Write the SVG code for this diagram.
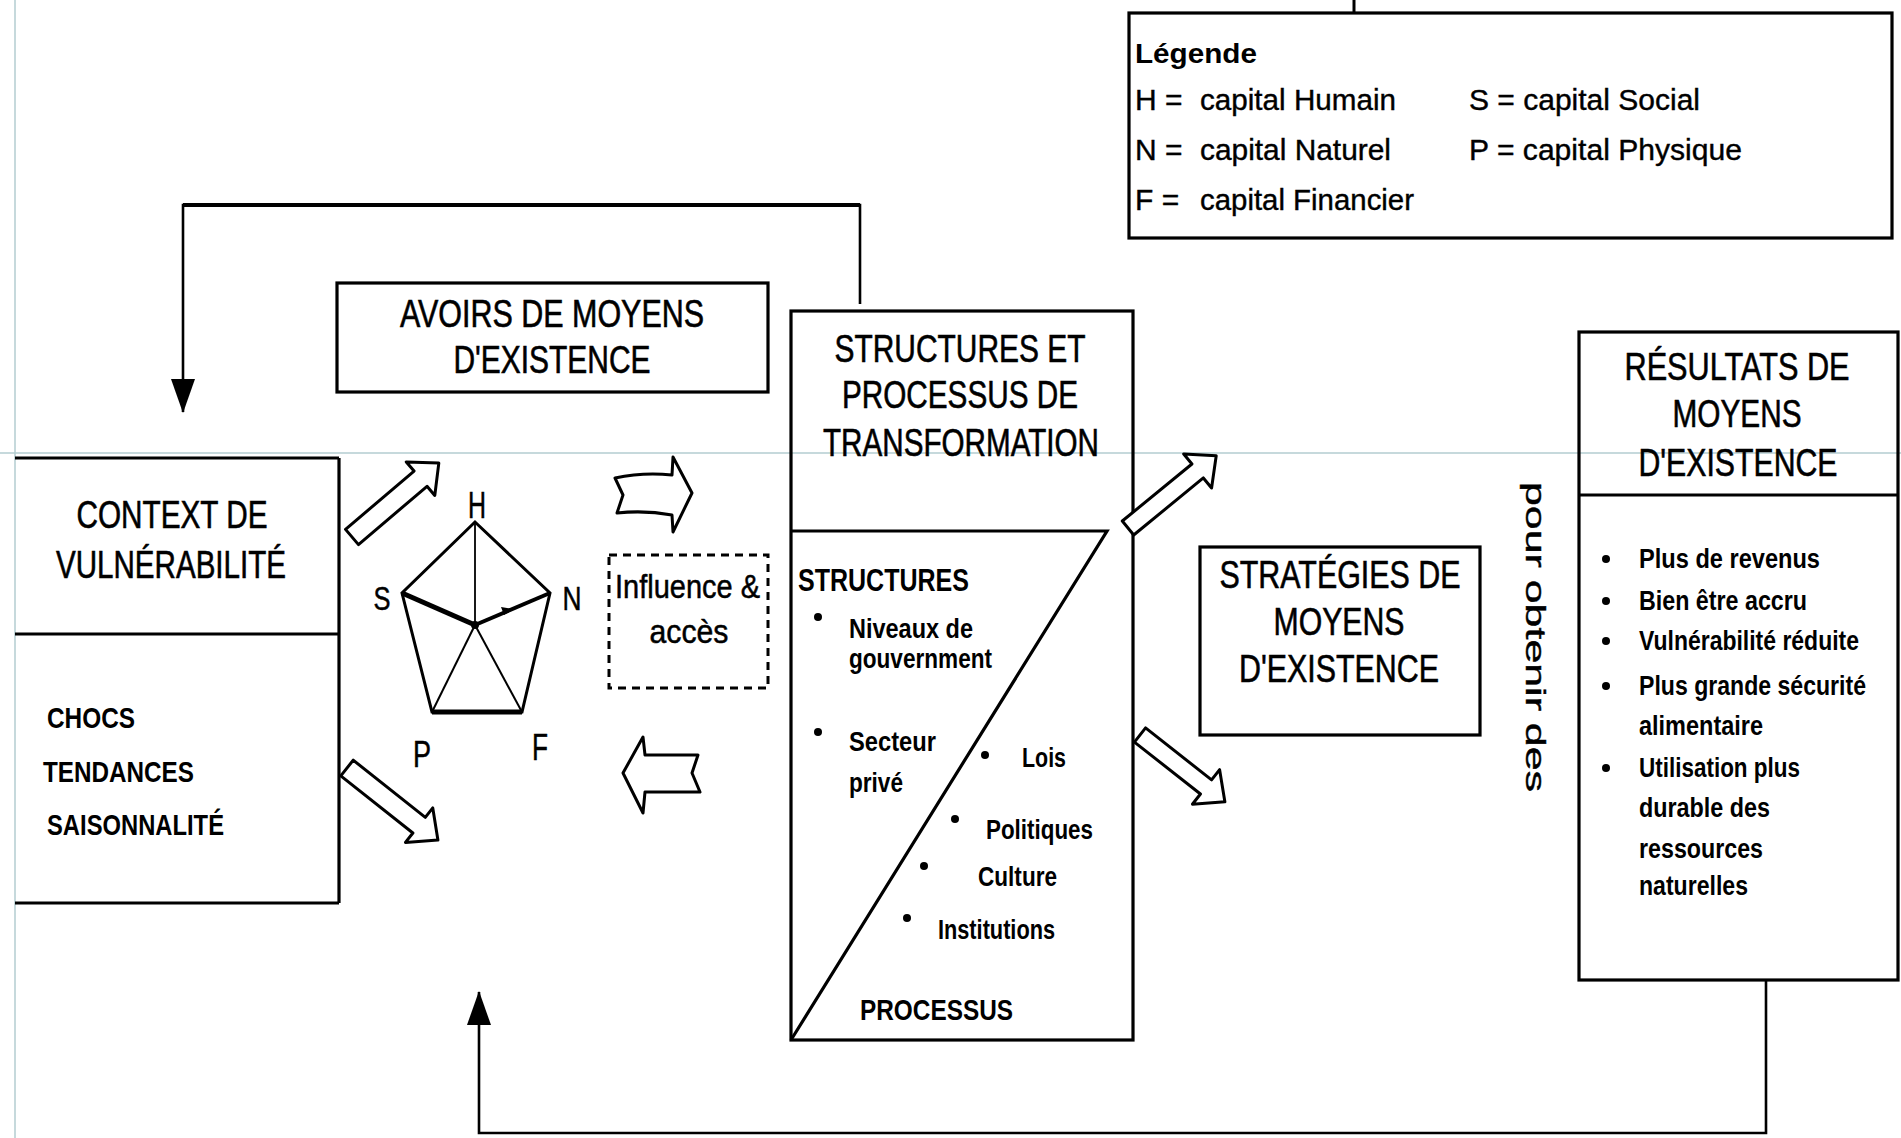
<svg xmlns="http://www.w3.org/2000/svg" width="1901" height="1138" viewBox="0 0 1901 1138">
<defs>
<style>
.bg{fill:#fff}
.faint{stroke:#b3ccd1;stroke-width:1.5;fill:none}
.box{fill:none;stroke:#000;stroke-width:3.2}
.ln{fill:none;stroke:#000;stroke-width:3.2}
.t{font-family:"Liberation Sans",Arial,sans-serif;fill:#000}
.ttl{font-size:38px;text-anchor:middle;stroke:#000;stroke-width:0.6}
.leg{font-size:30px;stroke:#000;stroke-width:0.4}
.itm{font-size:27px;font-weight:bold}
.lbl{stroke:#000;stroke-width:0.5;text-anchor:middle}
.blk{fill:#fff;stroke:#000;stroke-width:3;stroke-linejoin:round}
.dot{fill:#000}
.con{fill:none;stroke:#000;stroke-width:2.6}
</style>
<marker id="tri" markerUnits="userSpaceOnUse" markerWidth="34" markerHeight="24" viewBox="0 0 34 24" refX="33" refY="12" orient="auto">
<path d="M0,0 L34,12 L0,24 Z" fill="#000"/>
</marker>
</defs>
<rect class="bg" x="0" y="0" width="1901" height="1138"/>
<g id="scan-lines">
<line class="faint" x1="15" y1="0" x2="15" y2="1138"/>
<line class="faint" x1="0" y1="453" x2="1901" y2="453"/>
</g>

<g id="connectors">
<path class="con" d="M860,304 L860,205 L183,205 L183,412" marker-end="url(#tri)"/>
<line x1="183" y1="205" x2="860" y2="205" stroke="#000" stroke-width="4"/>
<path class="con" d="M1766,980 L1766,1133 L479,1133 L479,992" marker-end="url(#tri)"/>
<line x1="1354" y1="0" x2="1354" y2="14" stroke="#000" stroke-width="3"/>
</g>

<g id="legend">
<rect class="box" x="1129" y="13" width="763" height="225"/>
<text class="t" x="1135" y="63" font-size="28" font-weight="bold" textLength="122" lengthAdjust="spacingAndGlyphs">Légende</text>
<text class="t leg" x="1135" y="110">H =</text>
<text class="t leg" x="1200" y="110" textLength="196" lengthAdjust="spacingAndGlyphs">capital Humain</text>
<text class="t leg" x="1469" y="110" textLength="231" lengthAdjust="spacingAndGlyphs">S = capital Social</text>
<text class="t leg" x="1135" y="160">N =</text>
<text class="t leg" x="1200" y="160" textLength="191" lengthAdjust="spacingAndGlyphs">capital Naturel</text>
<text class="t leg" x="1469" y="160" textLength="273" lengthAdjust="spacingAndGlyphs">P = capital Physique</text>
<text class="t leg" x="1135" y="210">F =</text>
<text class="t leg" x="1200" y="210" textLength="214" lengthAdjust="spacingAndGlyphs">capital Financier</text>
</g>

<g id="contexte">
<line class="ln" x1="15" y1="458" x2="339" y2="458" stroke-width="4"/>
<line class="ln" x1="339" y1="458" x2="339" y2="903" stroke-width="2.6"/>
<line class="ln" x1="15" y1="634" x2="339" y2="634" stroke-width="4"/>
<line class="ln" x1="15" y1="903" x2="339" y2="903" stroke-width="4"/>
<text class="t ttl" x="172" y="528" textLength="191" lengthAdjust="spacingAndGlyphs">CONTEXT DE</text>
<text class="t ttl" x="171" y="578" textLength="230" lengthAdjust="spacingAndGlyphs">VULNÉRABILITÉ</text>
<text class="t" x="47" y="728" font-size="30" font-weight="bold" textLength="88" lengthAdjust="spacingAndGlyphs">CHOCS</text>
<text class="t" x="43" y="782" font-size="30" font-weight="bold" textLength="151" lengthAdjust="spacingAndGlyphs">TENDANCES</text>
<text class="t" x="47" y="835" font-size="30" font-weight="bold" textLength="177" lengthAdjust="spacingAndGlyphs">SAISONNALITÉ</text>
</g>

<g id="avoirs">
<rect class="box" x="337" y="283" width="431" height="109" stroke-width="3.6"/>
<text class="t ttl" x="552" y="327" textLength="304" lengthAdjust="spacingAndGlyphs">AVOIRS DE MOYENS</text>
<text class="t ttl" x="552" y="373" textLength="197" lengthAdjust="spacingAndGlyphs">D'EXISTENCE</text>
</g>

<g id="pentagone">
<polygon points="475,522 550,593 522,712 432,712 402,593" fill="none" stroke="#000" stroke-width="3" stroke-linejoin="miter"/>
<line x1="432" y1="712" x2="522" y2="712" stroke="#000" stroke-width="5"/>
<line x1="475" y1="522" x2="475" y2="625" stroke="#000" stroke-width="1.8"/>
<line x1="402" y1="593" x2="475" y2="625" stroke="#000" stroke-width="5"/>
<line x1="475" y1="625" x2="550" y2="593" stroke="#000" stroke-width="4"/>
<line x1="475" y1="625" x2="432" y2="712" stroke="#000" stroke-width="2"/>
<line x1="475" y1="625" x2="522" y2="712" stroke="#000" stroke-width="2"/>
<polygon points="514,609 504,615 501,607" fill="#000"/>
<circle cx="475" cy="625" r="4" class="dot"/>
<text class="t lbl" x="477" y="518" font-size="36" textLength="18" lengthAdjust="spacingAndGlyphs">H</text>
<text class="t lbl" x="382" y="610" font-size="34" textLength="17" lengthAdjust="spacingAndGlyphs">S</text>
<text class="t lbl" x="572" y="610" font-size="34" textLength="19" lengthAdjust="spacingAndGlyphs">N</text>
<text class="t lbl" x="422" y="767" font-size="36" textLength="18" lengthAdjust="spacingAndGlyphs">P</text>
<text class="t lbl" x="540" y="760" font-size="36" textLength="16" lengthAdjust="spacingAndGlyphs">F</text>
</g>

<g id="influence">
<rect x="609" y="555" width="159" height="133" fill="none" stroke="#000" stroke-width="3" stroke-dasharray="8 6"/>
<text class="t" x="615" y="598" font-size="34" stroke="#000" stroke-width="0.5" textLength="145" lengthAdjust="spacingAndGlyphs">Influence &amp;</text>
<text class="t" x="689" y="643" font-size="34" stroke="#000" stroke-width="0.5" text-anchor="middle" textLength="79" lengthAdjust="spacingAndGlyphs">accès</text>
</g>

<g id="structures">
<rect class="box" x="791" y="311" width="342" height="729" stroke-width="3.6"/>
<path class="ln" d="M791,531 L1107,531 L791,1040"/>
<text class="t ttl" x="960" y="362" font-size="40" textLength="251" lengthAdjust="spacingAndGlyphs">STRUCTURES ET</text>
<text class="t ttl" x="960" y="408" font-size="40" textLength="236" lengthAdjust="spacingAndGlyphs">PROCESSUS DE</text>
<text class="t ttl" x="961" y="456" font-size="40" textLength="276" lengthAdjust="spacingAndGlyphs">TRANSFORMATION</text>
<text class="t" x="798" y="591" font-size="32" font-weight="bold" textLength="171" lengthAdjust="spacingAndGlyphs">STRUCTURES</text>
<circle class="dot" cx="818" cy="617" r="4"/>
<text class="t itm" x="849" y="638" textLength="124" lengthAdjust="spacingAndGlyphs">Niveaux de</text>
<text class="t itm" x="849" y="668" textLength="143" lengthAdjust="spacingAndGlyphs">gouvernment</text>
<circle class="dot" cx="818" cy="732" r="4"/>
<text class="t itm" x="849" y="751" textLength="87" lengthAdjust="spacingAndGlyphs">Secteur</text>
<text class="t itm" x="849" y="792" textLength="54" lengthAdjust="spacingAndGlyphs">privé</text>
<circle class="dot" cx="985" cy="755" r="4"/>
<text class="t itm" x="1022" y="767" textLength="44" lengthAdjust="spacingAndGlyphs">Lois</text>
<circle class="dot" cx="955" cy="819" r="4"/>
<text class="t itm" x="986" y="839" textLength="107" lengthAdjust="spacingAndGlyphs">Politiques</text>
<circle class="dot" cx="924" cy="866" r="4"/>
<text class="t itm" x="978" y="886" textLength="79" lengthAdjust="spacingAndGlyphs">Culture</text>
<circle class="dot" cx="907" cy="918" r="4"/>
<text class="t itm" x="938" y="939" textLength="117" lengthAdjust="spacingAndGlyphs">Institutions</text>
<text class="t" x="860" y="1020" font-size="30" font-weight="bold" textLength="153" lengthAdjust="spacingAndGlyphs">PROCESSUS</text>
</g>

<g id="strategies">
<rect class="box" x="1200" y="547" width="280" height="188"/>
<text class="t ttl" x="1340" y="588" textLength="241" lengthAdjust="spacingAndGlyphs">STRATÉGIES DE</text>
<text class="t ttl" x="1339" y="635" textLength="131" lengthAdjust="spacingAndGlyphs">MOYENS</text>
<text class="t ttl" x="1339" y="682" textLength="200" lengthAdjust="spacingAndGlyphs">D'EXISTENCE</text>
</g>

<g id="pour-obtenir">
<text class="t" x="0" y="0" font-size="28" stroke="#000" stroke-width="0.4" transform="translate(1526,482) rotate(90)" textLength="310" lengthAdjust="spacingAndGlyphs">pour obtenir des</text>
</g>

<g id="resultats">
<rect class="box" x="1579" y="332" width="319" height="648"/>
<line class="ln" x1="1579" y1="495" x2="1898" y2="495"/>
<text class="t ttl" x="1737" y="380" textLength="225" lengthAdjust="spacingAndGlyphs">RÉSULTATS DE</text>
<text class="t ttl" x="1737" y="427" textLength="129" lengthAdjust="spacingAndGlyphs">MOYENS</text>
<text class="t ttl" x="1738" y="476" textLength="199" lengthAdjust="spacingAndGlyphs">D'EXISTENCE</text>
<circle class="dot" cx="1606" cy="559" r="4"/>
<text class="t itm" x="1639" y="568" textLength="181" lengthAdjust="spacingAndGlyphs">Plus de revenus</text>
<circle class="dot" cx="1606" cy="601" r="4"/>
<text class="t itm" x="1639" y="610" textLength="168" lengthAdjust="spacingAndGlyphs">Bien être accru</text>
<circle class="dot" cx="1606" cy="641" r="4"/>
<text class="t itm" x="1639" y="650" textLength="220" lengthAdjust="spacingAndGlyphs">Vulnérabilité réduite</text>
<circle class="dot" cx="1606" cy="686" r="4"/>
<text class="t itm" x="1639" y="695" textLength="227" lengthAdjust="spacingAndGlyphs">Plus grande sécurité</text>
<text class="t itm" x="1639" y="735" textLength="124" lengthAdjust="spacingAndGlyphs">alimentaire</text>
<circle class="dot" cx="1606" cy="768" r="4"/>
<text class="t itm" x="1639" y="777" textLength="161" lengthAdjust="spacingAndGlyphs">Utilisation plus</text>
<text class="t itm" x="1639" y="817" textLength="131" lengthAdjust="spacingAndGlyphs">durable des</text>
<text class="t itm" x="1639" y="858" textLength="124" lengthAdjust="spacingAndGlyphs">ressources</text>
<text class="t itm" x="1639" y="895" textLength="109" lengthAdjust="spacingAndGlyphs">naturelles</text>
</g>

<g id="fleches-blocs">
<polygon class="blk" transform="translate(352,537) rotate(-40.4)" points="0,-10 90,-10 90,-22 114,0 90,22 90,10 0,10"/>
<polygon class="blk" transform="translate(347,768) rotate(38.4)" points="0,-10 92,-10 92,-22 116,0 92,22 92,10 0,10"/>
<path class="blk" d="M615,478 Q643,472 672,475 L673,457 L692,493 L673,532 L672,515 Q645,510 617,513 L623,495 Z"/>
<path class="blk" d="M623,773 L643,737 L645,755 L698,755 L692,773 L700,792 L645,792 L643,813 Z"/>
<polygon class="blk" transform="translate(1128,528) rotate(-39.3)" points="0,-9 90,-9 90,-22 114,0 90,22 90,9 0,9"/>
<polygon class="blk" transform="translate(1140,735) rotate(38.2)" points="0,-9 84,-9 84,-22 108,0 84,22 84,9 0,9"/>
</g>
</svg>
